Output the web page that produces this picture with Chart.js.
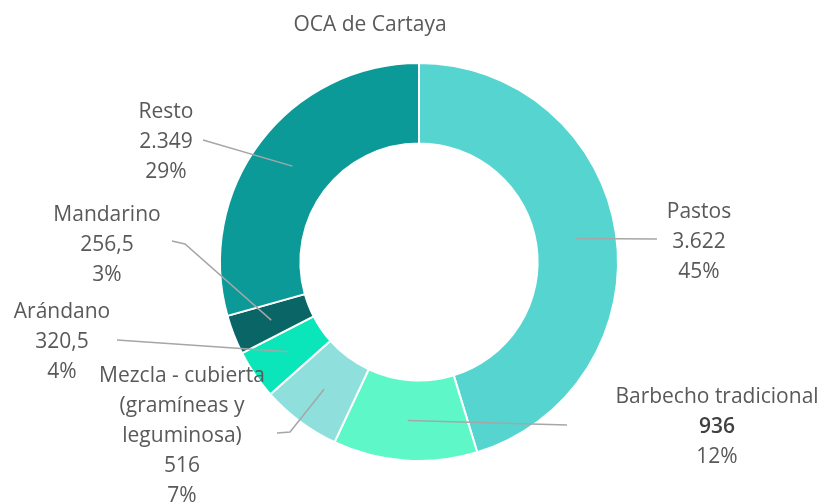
<!DOCTYPE html>
<html>
<head>
<meta charset="utf-8">
<script src="https://cdn.jsdelivr.net/npm/chart.js@4.4.1/dist/chart.umd.min.js"></script>
<style>
  html, body { margin: 0; padding: 0; background: #fff; }
  #wrap { width: 830px; height: 504px; position: relative; }
</style>
</head>
<body>
<div id="wrap"><canvas id="chart"></canvas></div>
<script>
// Data
var categories = ['Pastos', 'Barbecho tradicional', 'Mezcla - cubierta (gramíneas y leguminosa)', 'Arándano', 'Mandarino', 'Resto'];
var values = [3622, 936, 516, 320.5, 256.5, 2349];
var percentages = [45, 12, 7, 4, 3, 29];
var colors = ['#56D5D0', '#5EF8C8', '#8FE0DC', '#0AE6B9', '#0A6666', '#0B9A98'];

// label layout: text lines around center x, first line y, and leader line waypoints (pixels)
var labelLayout = [
    { lines: ['Pastos'], x: 699, y: 212, path: [[657, 239]] },
    { lines: ['Barbecho tradicional'], x: 717, y: 397, path: [[567, 425]], boldValue: true },
    { lines: ['Mezcla - cubierta', '(gramíneas y', 'leguminosa)'], x: 182, y: 376, path: [[290, 432], [277, 433]] },
    { lines: ['Arándano'], x: 62, y: 312, path: [[117, 340]] },
    { lines: ['Mandarino'], x: 107, y: 215, path: [[185, 244], [172, 241]] },
    { lines: ['Resto'], x: 166, y: 112, path: [[203, 140]] }
];

function formatEs(v) {
    var parts = String(v).split('.');
    var intPart = parts[0].replace(/\B(?=(\d{3})+(?!\d))/g, '.');
    return parts.length > 1 ? intPart + ',' + parts[1] : intPart;
}

var FONT = '"Open Sans", sans-serif';
var TEXT = '#595959';

var labelsPlugin = {
    id: 'outLabels',
    afterDatasetsDraw: function(chart) {
        var ctx = chart.ctx;
        var meta = chart.getDatasetMeta(0);
        ctx.save();
        // title
        ctx.fillStyle = TEXT;
        ctx.font = '21px ' + FONT;
        ctx.textAlign = 'center';
        ctx.textBaseline = 'middle';
        ctx.fillText('OCA de Cartaya', 370, 25);

        meta.data.forEach(function(arc, i) {
            var lay = labelLayout[i];
            var p = arc.tooltipPosition();
            // leader line
            ctx.strokeStyle = '#A6A6A6';
            ctx.lineWidth = 1.5;
            ctx.beginPath();
            ctx.moveTo(p.x, p.y);
            lay.path.forEach(function(pt) { ctx.lineTo(pt[0], pt[1]); });
            ctx.stroke();

            var lines = lay.lines.concat([formatEs(values[i]), percentages[i] + '%']);
            lines.forEach(function(t, k) {
                var isValue = k === lay.lines.length;
                ctx.font = (isValue && lay.boldValue ? '600 ' : '') + '21px ' + FONT;
                ctx.fillStyle = isValue && lay.boldValue ? '#404040' : TEXT;
                ctx.fillText(t, lay.x, lay.y + k * 30);
            });
        });
        ctx.restore();
    }
};

var ctx = document.getElementById('chart').getContext('2d');
new Chart(ctx, {
    type: 'doughnut',
    data: {
        labels: categories,
        datasets: [{
            data: values,
            backgroundColor: colors,
            borderColor: '#ffffff',
            borderWidth: 2,
            hoverOffset: 0,
            radius: 199,
            cutout: 118
        }]
    },
    options: {
        responsive: true,
        maintainAspectRatio: false,
        animation: false,
        layout: { padding: { top: 63, bottom: 43, left: 220, right: 212 } },
        plugins: {
            legend: { display: false },
            tooltip: { enabled: false },
            title: { display: false }
        }
    },
    plugins: [labelsPlugin]
});
</script>
</body>
</html>
